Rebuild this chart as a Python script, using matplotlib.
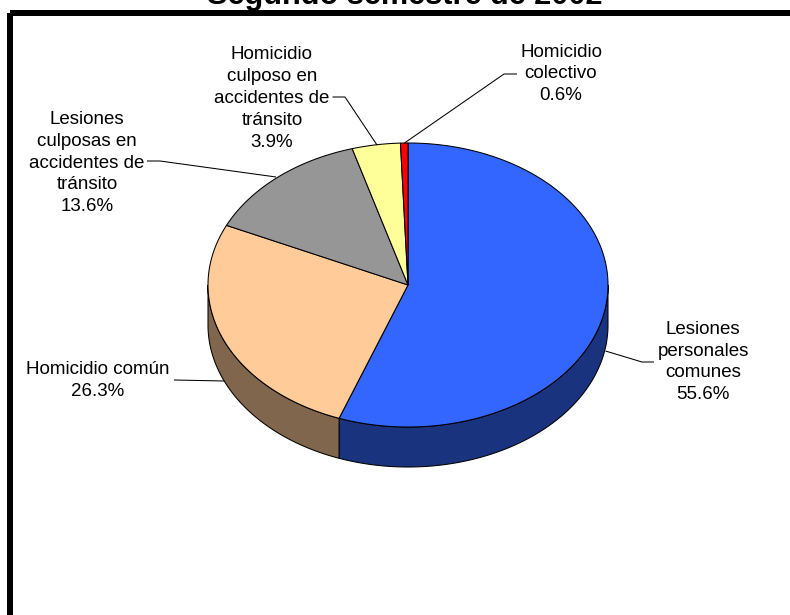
import numpy as np
import matplotlib
matplotlib.use("Agg")
import matplotlib.pyplot as plt
from matplotlib.patches import Polygon, Rectangle

plt.rcParams['font.family'] = ['Liberation Sans', 'DejaVu Sans']

title = "Segundo semestre de 2002"
categories = ["Lesiones\npersonales\ncomunes", "Homicidio común",
              "Lesiones\nculposas en\naccidentes de\ntránsito",
              "Homicidio\nculposo en\naccidentes de\ntránsito",
              "Homicidio\ncolectivo"]
values = [55.6, 26.3, 13.6, 3.9, 0.6]
top_colors = ["#3366FF", "#FFCC99", "#969696", "#FFFF99", "#FF0000"]
side_colors = ["#1A337F", "#80664D", "#4B4B4B", "#80804D", "#800000"]

CX, CY, RX, RY, DEPTH = 408.0, 285.0, 200.0, 142.0, 40.0
EDGE = 0.75

label_pos = [(703, 362), (98, 380.5), (87, 163), (272, 98.5), (561, 74)]
leaders = [[(605.5, 351), (642, 362), (654, 362)],
           [(224, 381), (174, 380)],
           [(276, 177), (160, 161), (147, 161)],
           [(377, 145), (345, 97), (332.5, 97)],
           [(404.5, 143), (504, 74), (517, 74)]]

fig = plt.figure(figsize=(7.9, 6.15), dpi=100, facecolor="white")
ax = fig.add_axes([0, 0, 1, 1])
ax.set_xlim(0, 790)
ax.set_ylim(615, 0)
ax.axis("off")

ax.add_patch(Rectangle((10, 13), 800, 640, fill=False, ec="black", lw=4.32, zorder=1))


def arc(a0, a1, dy=0.0):
    t = np.radians(np.linspace(a0, a1, max(int(abs(a1 - a0) * 2), 2)))
    return np.column_stack([CX + RX * np.sin(t), CY + dy - RY * np.cos(t)])


total = sum(values)
edges = np.concatenate([[0], np.cumsum(values)]) / total * 360
for i, v in enumerate(values):
    a0, a1 = edges[i], edges[i + 1]
    s0, s1 = max(a0, 90), min(a1, 270)
    if s1 > s0:
        wall = np.vstack([arc(s0, s1), arc(s0, s1, DEPTH)[::-1]])
        ax.add_patch(Polygon(wall, closed=True, fc=side_colors[i], ec="black", lw=EDGE, zorder=2))
for i, v in enumerate(values):
    a0, a1 = edges[i], edges[i + 1]
    pts = np.vstack([[(CX, CY)], arc(a0, a1)])
    ax.add_patch(Polygon(pts, closed=True, fc=top_colors[i], ec="black", lw=EDGE, zorder=3))

for name, v, pos, ld in zip(categories, values, label_pos, leaders):
    ax.text(pos[0], pos[1], f"{name}\n{v:.1f}%", ha="center", va="center",
            fontsize=13.5, linespacing=1.38, color="black", zorder=5)
    xs, ys = zip(*ld)
    ax.plot(xs, ys, color="black", lw=0.75, zorder=4, solid_capstyle="butt")

ax.text(405, 4, title, ha="center", va="baseline", fontsize=22.1, fontweight="bold", color="black")

fig.savefig("out.png", dpi=100, facecolor="white")
